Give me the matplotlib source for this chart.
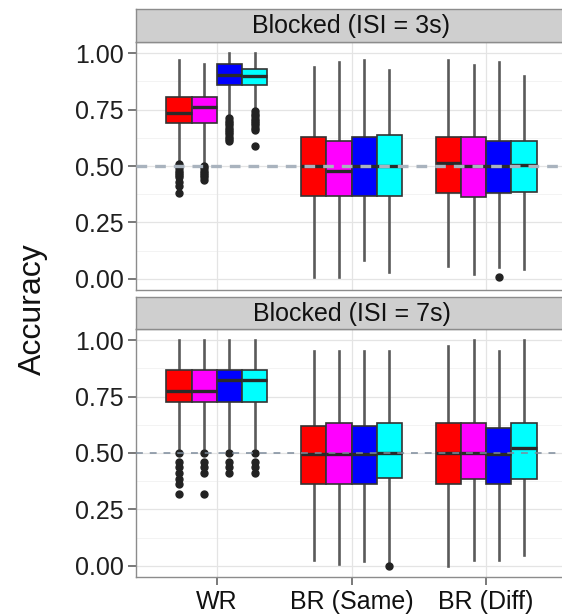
import matplotlib
matplotlib.use("Agg")
import matplotlib.pyplot as plt
import numpy as np

plt.rcParams["font.family"] = ["Liberation Sans", "DejaVu Sans"]

# categories and conditions (four fill colours, one box each per category)
GROUPS = ["WR", "BR (Same)", "BR (Diff)"]
COLORS = ["#FF0000", "#FF00FF", "#0000FF", "#00FFFF"]
PANEL_TITLES = ["Blocked (ISI = 3s)", "Blocked (ISI = 7s)"]
Y_TICKS = [0.0, 0.25, 0.5, 0.75, 1.0]
Y_TICK_LABELS = ["0.00", "0.25", "0.50", "0.75", "1.00"]
CHANCE = 0.5

# ISI = 3s, rows = groups, columns = colours
q1_3s = [[0.690, 0.690, 0.858, 0.858],
         [0.366, 0.366, 0.366, 0.366],
         [0.379, 0.364, 0.379, 0.384]]
med_3s = [[0.736, 0.761, 0.905, 0.900],
          [0.500, 0.480, 0.500, 0.500],
          [0.512, 0.500, 0.500, 0.505]]
q3_3s = [[0.806, 0.806, 0.951, 0.929],
         [0.628, 0.613, 0.628, 0.638],
         [0.628, 0.628, 0.613, 0.613]]
lo_3s = [[0.520, 0.515, 0.725, 0.755],
         [0.007, 0.007, 0.081, 0.030],
         [0.058, 0.021, 0.050, 0.043]]
hi_3s = [[0.972, 0.951, 1.000, 1.000],
         [0.938, 0.960, 0.972, 0.928],
         [0.970, 0.950, 0.960, 0.898]]
fliers_3s = [
    [[0.51, 0.50, 0.49, 0.48, 0.47, 0.46, 0.45, 0.43, 0.41, 0.38],
     [0.50, 0.49, 0.48, 0.47, 0.46, 0.45, 0.44],
     [0.715, 0.70, 0.69, 0.68, 0.67, 0.66, 0.65, 0.64, 0.63, 0.62, 0.61],
     [0.745, 0.73, 0.72, 0.71, 0.70, 0.69, 0.68, 0.67, 0.66, 0.59]],
    [[], [], [], []],
    [[], [], [0.006], []],
]

# ISI = 7s
q1_7s = [[0.726, 0.726, 0.726, 0.726],
         [0.364, 0.364, 0.364, 0.388],
         [0.364, 0.385, 0.364, 0.385]]
med_7s = [[0.777, 0.775, 0.825, 0.825],
          [0.496, 0.496, 0.496, 0.500],
          [0.500, 0.500, 0.496, 0.522]]
q3_7s = [[0.867, 0.867, 0.867, 0.867],
         [0.621, 0.633, 0.621, 0.633],
         [0.633, 0.633, 0.611, 0.633]]
lo_7s = [[0.520, 0.520, 0.520, 0.520],
         [0.026, 0.009, 0.023, 0.012],
         [0.000, 0.024, 0.024, 0.046]]
hi_7s = [[1.000, 1.000, 1.000, 1.000],
         [0.951, 0.951, 0.951, 0.951],
         [0.976, 1.000, 0.951, 1.000]]
fliers_7s = [
    [[0.50, 0.46, 0.436, 0.411, 0.386, 0.364, 0.32],
     [0.50, 0.46, 0.436, 0.411, 0.32],
     [0.50, 0.46, 0.436, 0.411],
     [0.50, 0.46, 0.436, 0.411]],
    [[], [], [], [0.0]],
    [[], [], [], []],
]

PANELS = [
    (q1_3s, med_3s, q3_3s, lo_3s, hi_3s, fliers_3s),
    (q1_7s, med_7s, q3_7s, lo_7s, hi_7s, fliers_7s),
]

W, H = 562, 614


def px_rect(left, top, right, bottom):
    return [left / W, 1 - bottom / H, (right - left) / W, (bottom - top) / H]


fig = plt.figure(figsize=(W / 100, H / 100), dpi=100)

panel_boxes = [(136, 42, 567, 290), (136, 329, 567, 577)]
strip_boxes = [(136, 9, 567, 42), (136, 297, 567, 329)]

n_col = len(COLORS)
dodge = 0.75
box_w = dodge / n_col
offsets = (np.arange(n_col) - (n_col - 1) / 2) * box_w
x_centers = np.arange(1, len(GROUPS) + 1)

for p, (q1, med, q3, lo, hi, fl) in enumerate(PANELS):
    ax = fig.add_axes(px_rect(*panel_boxes[p]))
    ax.set_facecolor("white")
    ax.set_xlim(0.4, 3.6)
    ax.set_ylim(-0.05, 1.05)

    # grid
    ax.set_axisbelow(True)
    for yv in np.arange(0.125, 1.0, 0.25):
        ax.axhline(yv, color="#F3F3F3", lw=0.7, zorder=0)
    for yv in Y_TICKS:
        ax.axhline(yv, color="#E4E4E4", lw=0.9, zorder=0)
    for xv in x_centers:
        ax.axvline(xv, color="#E4E4E4", lw=0.9, zorder=0)

    stats, positions, fills = [], [], []
    for g in range(len(GROUPS)):
        for c in range(n_col):
            stats.append({
                "q1": q1[g][c], "med": med[g][c], "q3": q3[g][c],
                "whislo": lo[g][c], "whishi": hi[g][c],
                "fliers": fl[g][c],
            })
            positions.append(x_centers[g] + offsets[c])
            fills.append(COLORS[c])

    parts = ax.bxp(
        stats,
        positions=positions,
        widths=box_w,
        patch_artist=True,
        showcaps=False,
        boxprops=dict(edgecolor="#333333", linewidth=1.2),
        medianprops=dict(color="#2A2A2A", linewidth=2.4),
        whiskerprops=dict(color="#5A5A5A", linewidth=1.9),
        flierprops=dict(marker="o", markersize=5, markerfacecolor="#222222",
                        markeredgecolor="#222222", linestyle="none"),
        manage_ticks=False,
        zorder=2,
    )
    for patch, fc in zip(parts["boxes"], fills):
        patch.set_facecolor(fc)
    for w in parts["whiskers"]:
        w.set_zorder(1.5)

    if p == 0:
        ax.axhline(CHANCE, color="#A9B3BE", lw=2.4, dashes=(3.2, 2.4), zorder=3)
    else:
        ax.axhline(CHANCE, color="#7D8C9C", lw=1.1, dashes=(4.5, 4.5), zorder=3)

    ax.set_yticks(Y_TICKS)
    ax.set_yticklabels(Y_TICK_LABELS)
    ax.tick_params(axis="y", length=5.8, width=1.1, color="#555555",
                   labelsize=18, labelcolor="#1F1F1F", pad=3)
    if p == len(PANELS) - 1:
        ax.set_xticks(x_centers)
        ax.set_xticklabels(GROUPS)
        ax.tick_params(axis="x", length=5.8, width=1.1, color="#555555",
                       labelsize=18, labelcolor="#111111", pad=3.5)
    else:
        ax.set_xticks([])

    for sp in ax.spines.values():
        sp.set_color("#8C8C8C")
        sp.set_linewidth(1.0)

    # facet strip
    sax = fig.add_axes(px_rect(*strip_boxes[p]))
    sax.set_facecolor("#CFCFCF")
    sax.set_xticks([])
    sax.set_yticks([])
    for sp in sax.spines.values():
        sp.set_color("#8C8C8C")
        sp.set_linewidth(1.0)
    sax.text(0.5, 0.47, PANEL_TITLES[p], transform=sax.transAxes,
             ha="center", va="center", fontsize=18, color="#111111")

fig.text(33 / W, 1 - 309 / H, "Accuracy", rotation=90, ha="center",
         va="center", fontsize=23, color="#111111")

fig.savefig("out.png", dpi=100)
